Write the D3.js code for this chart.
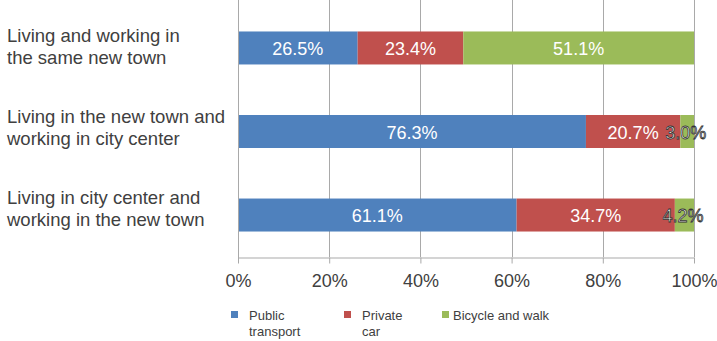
<!DOCTYPE html>
<html>
<head>
<meta charset="utf-8">
<script src="https://cdn.jsdelivr.net/npm/d3@7"></script>
<style>
  html, body { margin: 0; padding: 0; background: #fff; }
  svg { display: block; font-family: Arial, "Liberation Sans", sans-serif; }
</style>
</head>
<body>
<svg id="chart" width="717" height="341"></svg>
<script>
// Commute mode shares by living/working pattern
const categories = [
  ["Living and working in", "the same new town"],
  ["Living in the new town and", "working in city center"],
  ["Living in city center and", "working in the new town"]
];
const seriesNames = ["Public transport", "Private car", "Bicycle and walk"];
const publicTransport = [26.5, 76.3, 61.1];
const privateCar = [23.4, 20.7, 34.7];
const bicycleWalk = [51.1, 3.0, 4.2];
const tickValues = [0, 0.2, 0.4, 0.6, 0.8, 1.0];
const colors = ["#4f81bd", "#c0504d", "#9bbb59"];

const series = [publicTransport, privateCar, bicycleWalk];
const rows = categories.map((c, i) => {
  const vals = series.map(s => s[i]);
  const total = d3.sum(vals);
  return { label: c, vals, total, idx: i };
});

const svg = d3.select("#chart");
const plotLeft = 238, plotRight = 694, plotTop = 6, plotBottom = 257;
const FONT = "Arial, 'Liberation Sans', sans-serif";
const GRID = "#a9a9a9";

const x = d3.scaleLinear().domain([0, 1]).range([plotLeft, plotRight]);
const y = d3.scaleBand().domain(d3.range(categories.length))
  .range([plotTop, plotBottom]).paddingInner(0.605).paddingOuter(0.305);
// first-line baselines of the two-line category labels
const labelY = d3.scalePoint().domain(d3.range(categories.length)).range([41.5, 204]);

// vertical gridlines
svg.append("g").selectAll("line").data(tickValues.slice(1)).join("line")
  .attr("x1", d => Math.round(x(d)) + 0.5).attr("x2", d => Math.round(x(d)) + 0.5)
  .attr("y1", 0).attr("y2", plotBottom)
  .attr("stroke", GRID).attr("stroke-width", 1);

// stacked bars (normalised to 100%)
rows.forEach(r => {
  let acc = 0;
  const segs = r.vals.map((v, k) => {
    const s = { v, k, x0: acc / r.total, x1: (acc + v) / r.total };
    acc += v;
    return s;
  });
  const g = svg.append("g");
  g.selectAll("rect").data(segs).join("rect")
    .attr("x", d => x(d.x0)).attr("width", d => x(d.x1) - x(d.x0))
    .attr("y", y(r.idx)).attr("height", y.bandwidth())
    .attr("fill", d => colors[d.k]);
  g.selectAll("text").data(segs).join("text")
    .attr("x", d => (x(d.x0) + x(d.x1)) / 2 - (d.v < 10 ? 1.5 : 0))
    .attr("y", y(r.idx) + y.bandwidth() / 2)
    .attr("dy", "0.4em")
    .attr("text-anchor", "middle")
    .attr("font-size", 18)
    .attr("fill", "#fff")
    .attr("stroke", d => d.v < 10 ? "#333" : "none")
    .attr("stroke-width", d => d.v < 10 ? 0.8 : 0)
    .text(d => d.v.toFixed(1) + "%");
});

// axes
const xAxis = d3.axisBottom(x).tickValues(tickValues).tickFormat(d3.format(".0%")).tickSize(6).tickSizeOuter(0);
const ax = svg.append("g").attr("transform", `translate(0,${plotBottom + 0.5})`).call(xAxis);
ax.select(".domain").attr("stroke", GRID);
ax.selectAll(".tick line").attr("stroke", GRID);
ax.selectAll(".tick text").attr("font-size", 18).attr("fill", "#404040")
  .attr("y", 29.5).attr("dy", 0).attr("font-family", FONT);

svg.append("line").attr("x1", plotLeft + 0.5).attr("x2", plotLeft + 0.5).attr("y1", 0).attr("y2", plotBottom + 6)
  .attr("stroke", GRID);

// category labels
rows.forEach(r => {
  const t = svg.append("text").attr("font-size", 18.5).attr("fill", "#404040");
  r.label.forEach((line, j) => {
    t.append("tspan").attr("x", 7).attr("y", labelY(r.idx) + j * 22).text(line);
  });
});

// legend
const legendX = [231, 344, 442];
const legendTextX = [249, 362, 453];
const lg = svg.append("g");
seriesNames.forEach((name, i) => {
  lg.append("rect").attr("x", legendX[i]).attr("y", 311).attr("width", 7).attr("height", 7).attr("fill", colors[i]);
  const words = i === 2 ? [name] : name.split(" ");
  const t = lg.append("text").attr("font-size", 13).attr("fill", "#404040");
  words.forEach((w, j) => {
    t.append("tspan").attr("x", legendTextX[i]).attr("y", 319.5 + j * 16).text(w);
  });
});
</script>
</body>
</html>
